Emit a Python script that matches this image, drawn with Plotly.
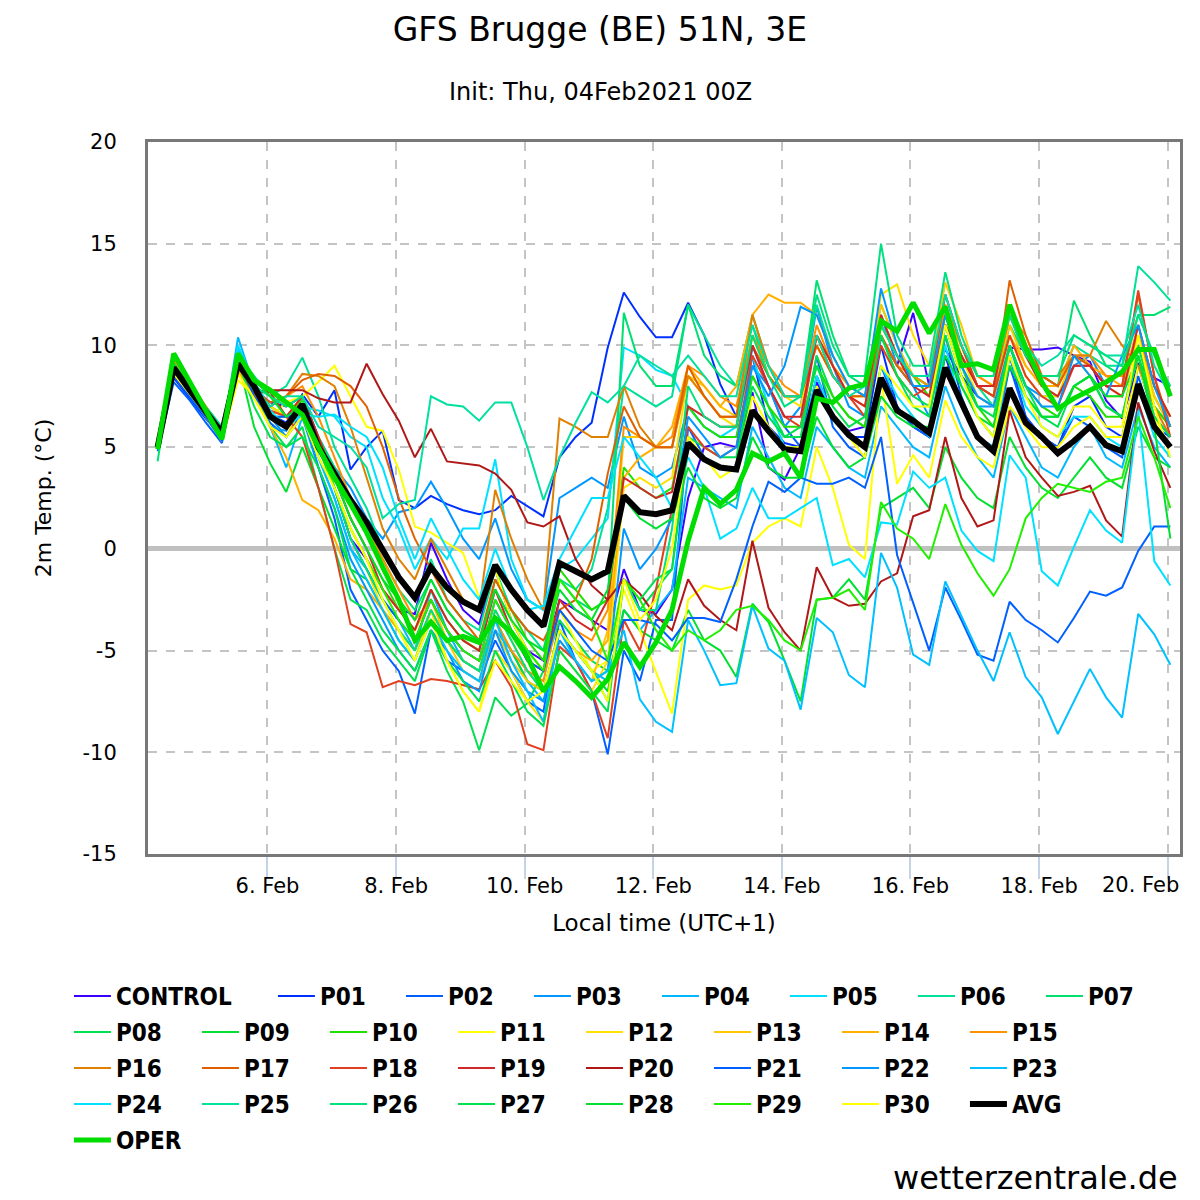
import pandas as pd
import plotly.graph_objects as go

# GFS ensemble 2m temperature, Brugge, init Thu 04 Feb 2021 00Z (local time UTC+1)
times = pd.date_range("2021-02-04 07:00", periods=64, freq="6h")

CONTROL = [5.0, 8.6, 7.6, 6.6, 5.5, 9.0, 7.8, 7.2, 7.0, 7.5, 5.5, 3.0, 0.5, -0.5, -2.0, -3.0,
           -3.2, 0.3, -1.5, -3.0, -3.7, -1.0, -3.5, -5.0, -5.5, -2.5, -3.0, -3.5, -4.0, -1.0, -3.0, -3.2,
           -2.0, 2.5, 5.0, 5.2, 5.0, 7.7, 4.0, 3.4, 5.0, 8.2, 6.4, 5.8, 6.0, 10.4, 9.0, 11.6,
           8.0, 9.8, 8.5, 7.5, 7.0, 9.9, 9.8, 9.8, 9.9, 9.5, 9.2, 7.3, 6.4, 9.1, 8.4, 8.0]
P01 = [5.0, 8.4, 7.4, 6.4, 5.5, 9.3, 7.6, 6.6, 6.2, 7.6, 6.5, 7.8, 3.9, 5.0, 5.8, 2.4,
       2.0, 2.6, 2.2, 1.9, 1.7, 1.9, 2.6, 2.1, 1.6, 4.5, 5.5, 6.2, 9.9, 12.6, 11.4, 10.4,
       10.4, 12.1, 10.5, 8.1, 6.5, 9.5, 6.0, 5.2, 5.0, 8.5, 6.5, 5.5, 5.5, 10.0, 7.0, 6.0,
       5.5, 9.5, 7.0, 5.5, 5.0, 9.5, 6.5, 5.5, 5.0, 7.0, 7.5, 6.0, 5.5, 9.0, 6.5, 5.5]
P02 = [4.8, 8.2, 7.3, 6.2, 5.2, 9.0, 7.5, 6.2, 5.5, 6.8, 4.0, 1.5, -2.0, -3.5, -5.0, -6.0,
       -8.1, -4.0, -5.5, -6.0, -6.5, -4.5, -6.0, -7.5, -8.0, -3.5, -5.5, -7.0, -10.1, -5.0, -6.5, -3.5,
       -3.5, 6.0, 4.5, 4.0, 4.0, 10.0, 8.0, 6.0, 5.0, 9.5, 6.0, 5.0, 4.5, 9.0, 7.0, 6.0,
       5.5, 10.5, 7.5, 5.5, 5.0, 9.0, 6.5, 5.5, 5.0, 6.5, 6.0, 5.0, 4.5, 8.5, 6.0, 5.5]
P03 = [5.0, 8.5, 7.5, 6.5, 5.3, 9.8, 7.5, 6.0, 5.8, 7.5, 5.5, 4.0, 3.0, 1.5, 0.5, 1.8,
       2.0, 3.3, 2.0, 0.5, -0.5, 1.5, -1.0, -2.5, -3.0, 2.5, 3.0, 3.5, 3.0, 6.5, 4.0, 3.5,
       4.0, 7.0, 6.0, 5.5, 5.5, 9.0, 8.0, 6.0, 7.0, 11.9, 9.0, 7.0, 6.5, 11.5, 9.0, 8.0,
       6.5, 11.0, 8.5, 7.0, 7.0, 10.0, 8.0, 7.5, 7.5, 9.0, 9.5, 8.0, 8.0, 10.0, 7.5, 6.0]
P04 = [5.0, 8.8, 7.7, 6.6, 5.4, 10.4, 8.0, 6.0, 4.0, 6.5, 4.5, 2.5, 0.0, -1.0, -2.5, -3.5,
       -5.0, -2.0, -4.0, -5.5, -6.0, -4.0, -5.0, -6.5, -7.5, -4.0, -5.0, -6.0, -6.5, -3.0, -4.0, -3.0,
       -2.0, 3.5, 3.0, 2.5, 2.0, 6.0, 4.5, 3.0, 2.5, 6.0, 5.0, 4.0, 3.5, 7.0, 6.0, 5.0,
       4.5, 8.0, 6.0, 4.5, 3.5, 7.0, 5.5, 4.0, 3.5, 5.0, 6.0, 4.5, 4.0, 7.0, 5.0, 4.0]
P05 = [5.0, 8.7, 7.6, 6.5, 5.6, 9.8, 8.2, 7.0, 6.5, 7.0, 6.8, 6.5, 5.5, 5.0, 2.5, 1.0,
       -1.0, 0.5, -0.5, 1.0, 1.0, 4.4, -0.5, -2.5, -3.0, -1.0, -0.5, 0.5, 1.5, 9.9, 9.5, 8.8,
       8.5, 7.0, 6.0, 5.5, 6.0, 9.5, 7.0, 5.0, 5.0, 8.5, 6.5, 5.5, 5.0, 9.0, 7.5, 6.5,
       5.5, 10.0, 7.0, 5.5, 5.0, 9.5, 7.0, 6.0, 5.5, 6.5, 6.5, 5.5, 5.0, 8.0, 5.5, 4.5]
P06 = [5.0, 9.0, 8.0, 7.0, 6.0, 9.5, 8.5, 7.5, 8.0, 9.4, 7.5, 5.0, 3.5, 2.0, 0.0, -1.5,
       -2.5, -0.5, -2.5, -3.5, -4.0, -1.0, -3.0, -4.0, -5.0, -1.5, -2.0, -1.0, 2.0, 8.0, 7.5, 7.0,
       7.5, 12.0, 10.5, 9.0, 8.0, 11.5, 9.0, 7.5, 7.5, 12.0, 9.5, 8.0, 7.5, 11.0, 9.5, 8.5,
       8.0, 12.5, 10.0, 8.0, 7.0, 11.5, 9.5, 8.5, 8.0, 10.0, 9.5, 9.0, 9.0, 13.9, 13.1, 12.2]
P07 = [4.3, 9.5, 8.2, 6.8, 5.5, 9.6, 8.0, 6.5, 6.5, 7.0, 5.5, 4.0, 2.5, 1.0, -0.5, -2.0,
       -3.0, -1.5, -3.0, -4.0, -4.5, -2.0, -3.5, -5.0, -6.0, -1.5, -2.5, -3.0, -2.5, 11.6, 9.0, 8.0,
       8.0, 12.0, 9.5, 8.5, 8.0, 11.0, 8.5, 7.5, 7.5, 13.2, 10.5, 8.5, 8.0, 12.0, 10.0, 8.5,
       8.0, 11.5, 9.5, 8.0, 7.5, 11.0, 9.5, 8.5, 8.0, 12.2, 10.5, 9.0, 8.5, 11.5, 11.5, 11.9]
P08 = [5.0, 8.9, 7.8, 6.8, 5.5, 8.8, 7.5, 6.0, 5.0, 6.0, 3.0, 0.0, -2.5, -3.0, -4.5, -5.5,
       -6.5, -4.0, -6.0, -7.5, -9.9, -7.3, -8.2, -7.6, -6.0, -3.5, -4.5, -5.5, -6.0, -1.5, -3.0, -2.0,
       -1.0, 5.5, 5.0, 4.5, 4.5, 8.5, 7.0, 5.5, 5.5, 9.5, 7.5, 6.5, 6.0, 10.5, 8.5, 7.0,
       6.5, 10.5, 8.0, 6.5, 5.5, 10.0, 7.5, 6.5, 6.0, 8.0, 8.5, 7.0, 6.5, 10.0, 7.0, 6.0]
P09 = [5.0, 9.2, 8.0, 6.8, 5.8, 9.3, 6.0, 4.2, 2.8, 5.0, 3.0, 1.0, -1.0, -1.5, -3.0, -4.5,
       -5.5, -3.0, -4.5, -5.5, -6.0, -3.5, -5.0, -6.5, -7.0, -4.0, -5.0, -6.0, -7.0, -3.0, -4.0, -4.5,
       -5.0, -3.0, -4.5, -5.0, -6.3, -2.7, -3.6, -5.5, -7.5, -2.5, -2.4, -1.5, -2.5, 2.0, 2.5, 3.0,
       2.0, 5.0, 3.5, 2.5, 2.0, 5.5, 4.0, 3.0, 2.5, 3.5, 4.5, 3.5, 3.0, 6.0, 4.5, 4.0]
P10 = [5.0, 9.0, 7.8, 6.7, 5.5, 9.4, 8.0, 7.0, 6.5, 7.3, 5.5, 3.5, 1.5, 0.0, -1.5, -3.0,
       -4.0, -2.0, -3.5, -4.5, -5.0, -1.5, -3.0, -4.5, -5.5, -1.0, -2.0, -3.0, -2.5, 4.0, 3.0, 2.5,
       3.0, 7.0, 6.0, 5.5, 5.5, 8.5, 7.0, 6.0, 6.0, 9.0, 7.5, 6.5, 6.0, 11.0, 9.5, 8.5,
       7.5, 11.5, 9.0, 7.0, 6.0, 10.0, 8.0, 7.0, 6.5, 8.0, 7.5, 6.5, 6.5, 9.5, 7.0, 6.0]
P11 = [5.0, 8.7, 7.6, 6.5, 5.3, 8.3, 7.5, 6.5, 7.2, 7.5, 8.2, 9.0, 7.5, 6.0, 5.8, 3.9,
       1.1, 0.8, 0.3, -0.2, -2.4, -1.0, -3.5, -5.0, -6.0, -3.0, -4.5, -6.0, -5.5, -2.0, -4.0, -6.0,
       -8.1, -2.5, -1.8, -2.0, -1.8, 0.3, 1.1, 1.5, 1.1, 5.0, 3.0, 0.2, -0.5, 8.4, 3.2, 4.6,
       3.5, 7.3, 5.5, 4.5, 4.0, 7.0, 6.0, 5.0, 5.0, 6.0, 6.5, 5.5, 5.5, 9.0, 6.5, 5.0]
P12 = [5.0, 8.8, 7.7, 6.7, 5.6, 8.8, 7.8, 7.0, 6.5, 7.5, 5.0, 3.0, 0.5, -1.0, -3.0, -4.0,
       -5.5, -3.0, -5.5, -7.0, -8.0, -5.0, -6.0, -7.5, -8.5, -5.0, -6.0, -7.0, -5.5, 3.0, 3.5, 3.0,
       3.5, 8.5, 7.5, 6.5, 6.0, 10.5, 8.5, 7.5, 7.0, 10.5, 8.5, 7.5, 7.5, 12.5, 13.0, 10.5,
       9.0, 12.0, 9.5, 7.5, 7.0, 10.5, 8.5, 7.5, 7.5, 9.5, 8.5, 7.5, 7.5, 10.5, 7.5, 6.0]
P13 = [5.0, 9.1, 8.0, 6.9, 5.7, 8.6, 7.5, 6.5, 5.5, 7.0, 5.5, 3.0, 1.0, -0.5, -2.0, -3.0,
       -4.0, -2.5, -4.5, -6.0, -6.5, -4.0, -5.5, -6.5, -7.0, -4.5, -5.5, -6.5, -4.0, 5.5, 5.5, 5.0,
       5.0, 8.5, 8.0, 7.0, 6.5, 10.5, 8.5, 7.5, 7.5, 10.0, 8.5, 7.5, 7.5, 12.0, 10.0, 8.5,
       8.5, 13.1, 11.0, 8.5, 8.0, 11.0, 9.0, 8.0, 7.5, 9.5, 9.0, 8.0, 7.5, 10.5, 7.5, 6.0]
P14 = [5.0, 9.0, 7.9, 6.8, 5.8, 8.7, 7.5, 6.0, 4.5, 2.4, 1.9, 0.5, -1.5, -2.0, -3.0, -4.0,
       -5.0, -3.0, -4.5, -5.5, -6.0, -3.0, -4.5, -6.0, -7.0, -4.0, -5.0, -5.5, -4.5, 3.5, 4.5, 5.0,
       6.0, 9.0, 8.0, 7.0, 8.0, 11.5, 12.5, 12.1, 12.1, 11.5, 9.5, 8.0, 7.5, 11.0, 9.5, 8.5,
       8.5, 11.5, 10.0, 8.0, 7.5, 10.5, 9.0, 8.0, 8.0, 10.0, 9.0, 8.5, 8.0, 11.0, 8.0, 6.5]
P15 = [5.0, 9.3, 8.2, 7.0, 5.6, 8.9, 7.8, 7.0, 7.5, 8.0, 6.5, 4.5, 2.5, 1.0, -0.5, -2.0,
       -3.5, -2.5, -4.0, -5.0, -5.5, -3.5, -5.0, -6.0, -6.5, -3.0, -4.0, -4.5, -3.0, 6.0, 5.5, 5.0,
       5.5, 9.0, 8.5, 7.5, 7.0, 10.5, 9.0, 8.0, 7.5, 11.0, 9.0, 8.0, 7.5, 10.5, 9.0, 8.5,
       8.0, 12.0, 10.0, 8.5, 8.0, 11.5, 10.5, 8.5, 8.0, 9.5, 9.5, 8.5, 8.5, 10.5, 8.0, 6.5]
P16 = [5.0, 8.9, 7.8, 6.7, 5.5, 9.2, 7.8, 7.0, 7.5, 8.6, 8.5, 8.0, 6.0, 3.5, 1.0, -0.5,
       -1.5, 0.5, -1.0, -2.5, -3.0, 2.9, 0.5, -1.5, -3.0, 6.4, 6.0, 5.5, 5.5, 8.0, 6.0, 5.0,
       5.0, 8.5, 7.5, 6.5, 6.5, 11.5, 9.0, 7.5, 7.5, 10.5, 9.0, 7.5, 7.0, 11.0, 9.5, 8.0,
       8.0, 11.5, 9.5, 8.0, 8.0, 11.5, 9.5, 8.5, 8.5, 9.5, 9.5, 11.2, 10.0, 9.0, 7.0, 5.5]
P17 = [5.0, 9.0, 7.9, 6.8, 5.7, 9.0, 7.8, 7.2, 7.5, 8.3, 8.6, 8.5, 8.0, 7.0, 5.0, 2.5,
       0.5, -1.0, -2.5, -3.5, -4.5, -1.5, -3.0, -4.0, -4.5, -3.0, -2.5, -0.5, 3.7, 7.0, 5.5, 5.0,
       5.0, 9.0, 7.5, 6.5, 6.5, 10.0, 8.5, 7.5, 7.5, 10.0, 8.5, 7.5, 7.5, 10.5, 9.0, 8.0,
       8.0, 11.0, 9.5, 8.0, 7.5, 13.2, 10.5, 8.5, 8.0, 9.5, 9.0, 8.0, 8.0, 12.5, 8.5, 6.0]
P18 = [5.0, 8.6, 7.6, 6.6, 5.4, 9.0, 7.6, 6.8, 6.5, 5.5, 3.0, 0.0, -3.7, -4.1, -6.8, -6.5,
       -6.7, -6.4, -6.5, -6.7, -6.9, -5.5, -6.8, -9.6, -9.9, -4.8, -5.5, -7.0, -9.3, -3.5, -5.0, -2.0,
       2.0, 6.0, 5.0, 4.5, 5.0, 9.5, 8.0, 6.5, 6.0, 10.5, 8.5, 7.5, 6.5, 10.0, 8.5, 7.5,
       8.0, 12.5, 10.0, 8.0, 7.5, 10.5, 8.5, 7.5, 7.0, 9.0, 9.0, 8.0, 8.0, 12.7, 8.5, 5.5]
P19 = [5.0, 8.8, 7.7, 6.7, 5.6, 9.1, 7.7, 7.7, 6.5, 7.5, 5.5, 3.5, 1.5, 0.0, -2.0, -3.0,
       -4.0, -2.0, -3.5, -4.5, -5.0, -2.0, -4.0, -5.5, -6.0, -2.5, -3.5, -4.0, -2.5, 3.5, 3.0, 2.5,
       2.8, 7.0, 6.5, 6.0, 6.0, 10.0, 8.0, 6.5, 6.5, 10.5, 9.0, 7.5, 7.0, 11.5, 9.5, 8.0,
       7.5, 11.0, 9.5, 8.0, 8.0, 12.0, 9.5, 8.0, 7.5, 9.0, 9.0, 8.0, 7.5, 11.0, 8.0, 6.5]
P20 = [5.0, 8.6, 7.6, 6.6, 5.5, 9.0, 7.7, 7.8, 7.8, 7.8, 7.4, 7.2, 7.2, 9.1, 7.6, 6.3,
       4.5, 5.9, 4.3, 4.2, 4.1, 3.7, 2.9, 1.3, 1.1, 1.6, -0.5, -1.8, -2.5, -1.5, -2.2, -3.3,
       -4.0, -1.5, -2.8, -3.5, -4.0, 0.4, -2.9, -4.1, -5.0, -0.9, -2.4, -2.8, -2.7, -1.6, -1.2, 1.6,
       1.9, 5.5, 2.5, 1.1, 1.4, 6.8, 4.5, 3.5, 2.6, 2.8, 3.1, 1.4, 0.6, 7.2, 4.8, 3.0]
P21 = [5.0, 8.5, 7.5, 6.5, 5.3, 9.4, 7.5, 6.5, 6.5, 7.0, 5.0, 3.0, 0.5, -1.0, -2.5, -3.5,
       -4.5, -2.5, -4.0, -5.0, -5.5, -2.5, -4.0, -5.5, -6.0, -3.0, -4.0, -5.0, -5.5, -3.5, -3.5, -3.7,
       -4.5, -3.4, -3.4, -3.6, -1.5, 1.1, 3.3, 2.8, 3.5, 3.2, 3.2, 3.5, 3.0, 5.5, -0.3, -2.6,
       -5.0, -1.9, -3.5, -5.2, -5.5, -2.6, -3.5, -4.0, -4.6, -3.4, -2.1, -2.3, -1.9, -0.1, 1.1, 1.1]
P22 = [5.0, 8.7, 7.6, 6.6, 5.5, 9.6, 8.0, 6.5, 5.5, 6.5, 4.0, 2.0, -0.5, -2.0, -3.5, -5.0,
       -6.0, -4.0, -5.0, -6.5, -7.0, -4.0, -6.0, -7.0, -7.5, -4.5, -5.5, -6.5, -6.0, 1.0, -1.0, 0.0,
       1.5, 6.5, 5.5, 4.5, 5.0, 9.0, 7.5, 9.0, 11.9, 11.5, 9.5, 8.0, 7.5, 12.8, 10.0, 8.0,
       8.0, 11.5, 9.0, 7.5, 7.0, 10.0, 8.0, 7.0, 7.0, 9.5, 8.5, 7.5, 9.5, 11.0, 8.0, 6.0]
P23 = [5.0, 8.9, 7.8, 6.8, 5.5, 9.9, 8.0, 6.5, 6.0, 6.8, 4.5, 2.5, 0.0, -1.5, -3.0, -4.5,
       -5.5, -3.5, -5.0, -6.0, -6.5, -3.5, -5.5, -7.0, -8.5, -4.0, -5.5, -6.5, -6.0, -4.0, -7.4, -8.5,
       -9.0, -3.5, -5.0, -6.7, -6.6, -2.8, -4.9, -5.5, -7.9, -3.4, -4.1, -6.2, -6.8, -0.2, -1.9, -5.2,
       -5.7, -1.6, -3.3, -5.0, -6.5, -4.1, -6.3, -7.3, -9.1, -7.5, -5.9, -7.3, -8.3, -3.2, -4.2, -5.7]
P24 = [5.0, 8.8, 7.7, 6.7, 5.6, 10.0, 8.2, 6.8, 6.0, 6.6, 6.5, 6.6, 6.0, 5.5, 4.0, 1.5,
       -0.5, 1.5, 0.0, -1.5, -2.5, 0.0, -2.0, -3.0, -2.8, -0.5, 1.0, 2.5, 2.5, 5.5, 4.5, 3.5,
       2.0, 4.5, 3.0, 0.5, 1.0, 3.0, 1.5, 1.5, 2.0, 2.5, -0.8, -0.5, -1.4, 1.3, 1.2, 3.8,
       3.0, 3.5, 0.9, -0.1, -0.6, 4.6, 3.5, -1.1, -1.8, 0.1, 1.9, 0.9, 0.3, 6.8, -0.6, -1.8]
P25 = [5.0, 9.0, 7.9, 6.8, 5.6, 9.4, 7.9, 7.0, 7.5, 7.5, 6.0, 5.5, 5.0, 4.0, 1.5, 2.2,
       2.4, 7.5, 7.1, 7.0, 6.3, 7.2, 7.2, 5.0, 2.4, 4.5, 6.2, 7.7, 7.2, 8.0, 9.5, 9.0,
       8.5, 9.5, 8.5, 7.5, 7.5, 11.0, 9.0, 7.5, 7.5, 10.5, 8.5, 7.5, 8.0, 11.0, 9.5, 8.5,
       8.5, 12.5, 10.0, 8.5, 8.5, 12.0, 10.0, 9.0, 9.5, 10.5, 10.0, 9.5, 9.5, 12.0, 9.0, 7.5]
P26 = [5.0, 9.1, 8.0, 6.9, 5.8, 9.3, 8.0, 7.5, 7.0, 7.5, 5.0, 3.0, 0.5, -1.0, -2.5, -4.0,
       -5.0, -3.0, -4.5, -5.5, -6.0, -3.0, -4.5, -6.0, -7.0, -4.0, -5.0, -6.0, -7.5, -1.5, -3.0, -3.0,
       1.0, 8.0, 6.5, 6.0, 6.0, 10.5, 8.5, 7.0, 7.5, 12.5, 10.0, 8.5, 8.5, 15.0, 10.5, 9.0,
       9.0, 13.6, 10.5, 8.5, 8.5, 11.5, 9.5, 8.5, 8.5, 10.5, 10.0, 9.5, 9.0, 11.5, 9.5, 8.0]
P27 = [5.0, 9.0, 7.9, 6.8, 5.6, 9.2, 7.0, 5.5, 5.0, 5.5, 4.0, 2.0, -1.0, -2.5, -4.0, -5.0,
       -6.0, -4.0, -5.5, -6.5, -7.5, -5.0, -6.5, -8.0, -8.7, -5.0, -6.0, -7.0, -8.0, -1.5, -2.5, -1.5,
       -1.0, 5.0, 4.5, 4.0, 4.0, 8.0, 6.5, 5.5, 6.0, 9.0, 7.0, 6.0, 6.5, 10.5, 8.5, 7.5,
       7.0, 11.0, 8.5, 7.0, 6.5, 10.0, 8.0, 6.5, 6.5, 8.0, 8.5, 7.0, 6.5, 9.5, 6.5, 5.5]
P28 = [5.0, 9.1, 8.0, 6.9, 5.7, 9.5, 8.3, 7.5, 6.5, 7.0, 5.0, 3.5, 1.5, 0.0, -1.5, -2.5,
       -3.5, -1.5, -3.0, -4.0, -4.5, -2.0, -3.5, -4.5, -5.0, -2.0, -3.0, -3.5, -2.0, 2.5, 1.5, 1.0,
       1.5, 4.0, 2.5, 2.0, 2.5, 5.5, 4.0, 3.5, 3.5, 6.5, 5.0, 4.0, 4.5, 7.5, 6.5, 6.0,
       6.0, 9.5, 8.0, 6.5, 6.0, 9.0, 7.5, 6.5, 6.5, 8.0, 8.5, 7.5, 7.5, 9.5, 6.0, 0.5]
P29 = [5.0, 8.9, 7.8, 6.8, 5.5, 9.0, 7.8, 6.6, 6.0, 7.0, 5.0, 3.0, 1.0, -0.5, -2.0, -3.5,
       -4.5, -2.5, -4.0, -5.0, -5.5, -2.5, -4.0, -5.0, -6.0, -1.5, -2.5, -3.5, -5.5, -1.5, -2.5, -4.0,
       -5.0, -4.0, -4.5, -4.0, -3.0, -2.8, -3.5, -4.5, -5.0, -2.5, -2.4, -2.0, -3.0, 2.3, 1.0, 0.5,
       -0.5, 2.2, 0.2, -1.2, -2.3, -1.0, 1.5, 2.5, 3.2, 3.0, 2.8, 3.3, 3.5, 6.5, 4.5, 2.0]
P30 = [5.0, 8.6, 7.6, 6.6, 5.4, 8.6, 7.4, 6.0, 5.5, 6.5, 4.5, 3.0, 1.0, -0.5, -2.5, -4.0,
       -5.5, -3.5, -5.5, -7.0, -8.0, -5.5, -6.5, -7.5, -7.0, -4.0, -5.0, -6.0, -7.5, -1.5, -3.5, -2.5,
       0.0, 5.5, 4.5, 3.5, 4.0, 7.5, 6.0, 5.0, 5.0, 8.0, 6.5, 5.5, 4.5, 9.0, 8.0, 7.0,
       7.0, 11.0, 8.5, 6.5, 5.5, 9.5, 7.5, 6.0, 5.5, 7.0, 7.0, 6.0, 6.0, 10.5, 7.0, 4.5]
AVG = [5.0, 8.9, 7.8, 6.8, 5.7, 9.1, 8.0, 6.5, 6.0, 7.1, 5.0, 3.7, 2.4, 1.3, 0.0, -1.4,
       -2.4, -0.9, -1.9, -2.6, -3.0, -0.8, -2.0, -3.0, -3.8, -0.7, -1.1, -1.5, -1.1, 2.6, 1.8, 1.7,
       1.9, 5.2, 4.4, 4.0, 3.9, 6.8, 5.8, 4.9, 4.8, 7.8, 6.5, 5.6, 5.0, 8.4, 6.8, 6.3,
       5.7, 8.9, 7.2, 5.5, 4.8, 7.9, 6.2, 5.5, 4.7, 5.3, 6.0, 5.1, 4.8, 8.1, 6.0, 5.0]
OPER = [4.9, 9.6, 8.2, 6.8, 5.4, 9.6, 8.3, 7.8, 7.2, 6.6, 5.0, 3.5, 2.2, 0.8, -0.9, -2.5,
        -4.5, -3.6, -4.5, -4.3, -4.6, -3.4, -4.1, -5.3, -7.0, -5.8, -6.5, -7.3, -6.4, -4.6, -5.8, -4.6,
        -3.0, 0.4, 3.0, 2.2, 2.9, 4.7, 4.3, 4.7, 3.5, 7.4, 7.2, 7.9, 8.1, 11.2, 10.7, 12.1,
        10.6, 11.9, 9.0, 9.1, 8.8, 12.0, 9.9, 8.2, 6.9, 7.4, 7.8, 8.2, 8.7, 9.8, 9.8, 7.5]

member_names = ["CONTROL"] + ["P%02d" % i for i in range(1, 31)]
member_values = [CONTROL, P01, P02, P03, P04, P05, P06, P07, P08, P09, P10,
                 P11, P12, P13, P14, P15, P16, P17, P18, P19, P20,
                 P21, P22, P23, P24, P25, P26, P27, P28, P29, P30]
member_colors = ["#3c00ff", "#0030ff", "#0060ff", "#0098ff", "#00b8ff", "#00e0ff",
                 "#00e098", "#00e070", "#00e050", "#00e030", "#20e000",
                 "#ffff00", "#ffe000", "#ffc800", "#ffb000", "#ff9000",
                 "#e08000", "#e06000", "#e04020", "#d02828", "#b01818",
                 "#0060ff", "#0098ff", "#00c0ff", "#00e0ff", "#00e0a0",
                 "#00e080", "#00e050", "#00e030", "#20f000", "#ffff00"]
ytick_vals = [-15, -10, -5, 0, 5, 10, 15, 20]
ytick_text = ["-15", "-10", "-5", "0", "5", "10", "15", "20"]
xtick_vals = ["2021-02-06", "2021-02-08", "2021-02-10", "2021-02-12",
              "2021-02-14", "2021-02-16", "2021-02-18", "2021-02-20"]
xtick_text = ["6. Feb", "8. Feb", "10. Feb", "12. Feb", "14. Feb", "16. Feb", "18. Feb", ""]
last_tick_label = "20. Feb"   # drawn pulled left so it stays inside the page

font = "DejaVu Sans"
legend_font = dict(family="DejaVu Sans Condensed", size=24, weight="bold", color="black")

# legend laid out as 5 rows of 8 entries, one plotly legend per row
legend_ids = ["legend", "legend2", "legend3", "legend4", "legend5"]


def row_legend(i):
    return legend_ids[i // 8]


fig = go.Figure()
for k, (name, vals, color) in enumerate(zip(member_names, member_values, member_colors)):
    fig.add_trace(go.Scatter(x=times, y=vals, mode="lines", name=name,
                             line=dict(color=color, width=2),
                             legend=row_legend(k),
                             legendwidth=152 if name == "CONTROL" else None))
fig.add_trace(go.Scatter(x=times, y=AVG, mode="lines", name="AVG",
                         line=dict(color="black", width=6), legend=row_legend(31)))
fig.add_trace(go.Scatter(x=times, y=OPER, mode="lines", name="OPER",
                         line=dict(color="#00dd00", width=5), legend=row_legend(32)))

grid = dict(showgrid=True, gridcolor="#c4c4c4", griddash="dash", gridwidth=1.5,
            showline=True, mirror=True, linecolor="#787878", linewidth=3,
            tickfont=dict(family=font, size=21, color="black"))

# plot area in reference pixels: x 148..1180, y 142..854 (page adds an 8px body margin)
legends = {}
for r, lid in enumerate(legend_ids):
    legends[lid] = dict(orientation="h", x=-0.0766, xanchor="left",
                        y=(854 - 974 - 36 * r) / 712, yanchor="top",
                        entrywidth=76, itemwidth=37, font=legend_font,
                        traceorder="normal", bgcolor="rgba(0,0,0,0)")

fig.update_layout(
    width=1200, height=1200, autosize=False,
    margin=dict(l=140, r=28, t=134, b=354, autoexpand=False),
    paper_bgcolor="white", plot_bgcolor="white",
    font=dict(family=font, color="black"),
    title=dict(text="GFS Brugge (BE) 51N, 3E", x=(600 - 8) / 1200, xanchor="center",
               y=1 - 21 / 1200, yanchor="middle", font=dict(size=33)),
    xaxis=dict(type="date", range=["2021-02-04 03:24", "2021-02-20 04:36"],
               tickvals=xtick_vals, ticktext=xtick_text,
               ticks="outside", ticklen=22, tickcolor="#c5d3e8", tickwidth=1.5,
               ticklabelstandoff=-11, zeroline=False,
               title=dict(text="Local time (UTC+1)", font=dict(size=23), standoff=18),
               **grid),
    yaxis=dict(range=[-15, 20], tickvals=ytick_vals, ticktext=ytick_text,
               ticklabelstandoff=24,
               zeroline=True, zerolinecolor="#c0c0c0", zerolinewidth=5,
               title=dict(text="2m Temp. (°C)", font=dict(size=22), standoff=25),
               **grid),
    showlegend=True,
    annotations=[
        dict(text="Init: Thu, 04Feb2021 00Z", xref="paper", yref="paper",
             x=(600 - 148) / 1032, y=(854 - 92) / 712, showarrow=False,
             xanchor="center", yanchor="middle", font=dict(size=24)),
        dict(text=last_tick_label, xref="x", yref="paper",
             x=xtick_vals[-1], y=(854 - 885) / 712, xshift=-27, showarrow=False,
             xanchor="center", yanchor="middle", font=dict(size=21)),
        dict(text="wetterzentrale.de", xref="paper", yref="paper",
             x=1.0, y=(854 - 1178) / 712, showarrow=False,
             xanchor="right", yanchor="middle", font=dict(size=32)),
    ],
    **legends,
)

fig.write_html("out.html")
